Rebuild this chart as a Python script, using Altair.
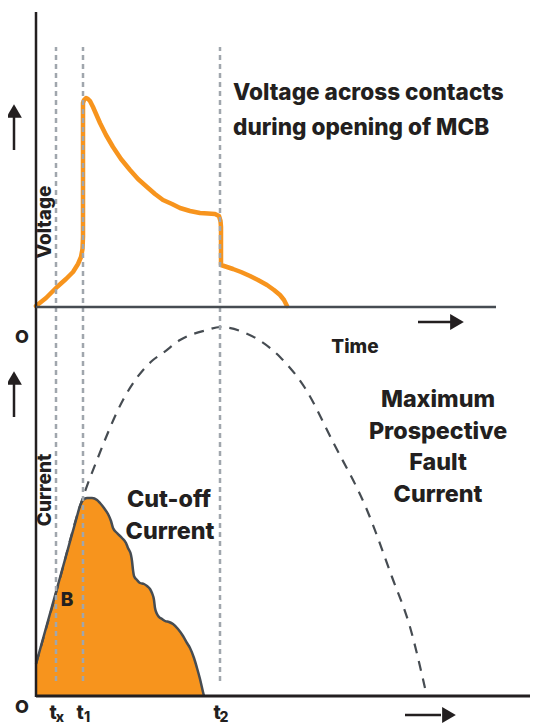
import altair as alt
import pandas as pd

# ---------------- data ----------------
# Voltage across contacts: time (px from origin) / voltage above its own baseline
volt_t = [0, 10, 21, 30, 37, 42, 45, 46.5, 47, 47, 48, 50, 52, 54, 57, 64, 70, 77, 85, 94,
          102, 111, 119, 127, 136, 144, 154, 164, 172, 179, 183, 184.5, 185, 185, 191, 197,
          205, 214, 222, 231, 238, 244, 248, 251]
volt_v = [1, 9, 20, 28, 35, 43, 50, 58, 70, 204, 207, 209, 208, 206, 200, 184, 172, 160, 148, 137,
          128, 120, 113, 107, 103, 99, 96, 94, 93.5, 93, 91, 86, 80, 42, 40, 38,
          35, 31, 27, 22, 17, 12, 7, 1]

# Cut-off current (filled)
cur_t = [0, 10, 20, 30, 40, 44, 47, 51, 56, 61, 64, 68, 72, 75, 77, 81, 86, 90, 92, 95, 96, 97,
         98, 101, 104, 108, 111, 114, 116, 118, 119, 121, 123, 126, 129, 133, 137, 142, 147,
         151, 154, 158, 161, 164, 167, 168]
cur_i = [32, 68, 104, 140, 176, 190, 196, 198, 198, 196, 193, 188, 182, 175, 168, 163, 158, 153,
         148, 141, 135, 126, 120, 116, 113, 112, 110, 107, 103, 96, 88, 82, 79, 77, 75, 74, 72,
         67, 60, 53, 48, 38, 28, 17, 4, 0]

# Maximum prospective fault current (dashed)
pros_t = [0, 19, 44, 61, 87, 117, 127, 144, 171, 184, 207, 244, 269, 297, 331, 356, 374, 389]
pros_i = [32, 99, 190, 236, 296, 336, 343, 356, 366, 369, 364, 339, 308, 254, 186, 119, 69, 8]

# Time markers
mark_t = [20, 47, 184]
mark_main = ["t", "t", "t"]
mark_sub = ["x", "1", "2"]

# ---------------- layout constants ----------------
VOLT_BASE = 389          # level of the voltage panel's baseline
X_DOM = [-28, 494]
Y_DOM = [-28, 688]
ORANGE = "#F7941D"
DARK = "#231f20"
EDGE = "#464c52"
GRAY = "#a0a6ad"
FONT = "Inter"
WEIGHT = 800

xs = alt.Scale(domain=X_DOM, nice=False, zero=False)
ys = alt.Scale(domain=Y_DOM, nice=False, zero=False)
X = lambda f: alt.X(f, scale=xs, axis=None)
Y = lambda f: alt.Y(f, scale=ys, axis=None)

volt_df = pd.DataFrame({"t": volt_t, "v": volt_v, "i": range(len(volt_t))})
cur_df = pd.DataFrame({"t": cur_t, "c": cur_i})
pros_df = pd.DataFrame({"t": pros_t, "c": pros_i})
mark_df = pd.DataFrame({"t": mark_t, "main": mark_main, "sub": mark_sub})

area = alt.Chart(cur_df).transform_calculate(z="0").mark_area(
    color=ORANGE, interpolate="monotone").encode(x=X("t:Q"), y=Y("c:Q"), y2="z:Q")
edge = alt.Chart(cur_df).mark_line(color=EDGE, strokeWidth=2.5, interpolate="monotone").encode(
    x=X("t:Q"), y=Y("c:Q"))
pros = alt.Chart(pros_df).mark_line(color=EDGE, strokeWidth=2.2, strokeDash=[10, 8],
                                    interpolate="monotone").encode(x=X("t:Q"), y=Y("c:Q"))
volt = alt.Chart(volt_df).transform_calculate(lv=f"datum.v + {VOLT_BASE}").mark_line(
    color=ORANGE, strokeWidth=4.5, strokeJoin="round", strokeCap="round").encode(
    x=X("t:Q"), y=Y("lv:Q"), order="i:Q")
vrules = alt.Chart(mark_df).transform_calculate(ya="15", yb="649").mark_rule(
    color=GRAY, strokeWidth=2.5, strokeDash=[5, 4]).encode(
    x=X("t:Q"), y=Y("ya:Q"), y2="yb:Q")

# structural axes
lines_df = pd.DataFrame({
    "x1": [0, 0, 0], "x2": [0, 460, 494],
    "y1": [-1, VOLT_BASE, 0], "y2": [684, VOLT_BASE, 0],
    "c": [DARK, EDGE, DARK], "w": [2.5, 2.5, 3]})
axes = alt.Chart(lines_df).mark_rule().encode(
    x=X("x1:Q"), x2="x2:Q", y=Y("y1:Q"), y2="y2:Q",
    color=alt.Color("c:N", scale=None), strokeWidth=alt.StrokeWidth("w:Q", scale=None))

# arrows
arr_df = pd.DataFrame({
    "x1": [-22, -22, 382, 369], "x2": [-22, -22, 416, 405],
    "y1": [546, 279, 374, -19], "y2": [580, 313, 374, -19]})
shafts = alt.Chart(arr_df).mark_rule(color=DARK, strokeWidth=2.5).encode(
    x=X("x1:Q"), x2="x2:Q", y=Y("y1:Q"), y2="y2:Q")
head_df = pd.DataFrame({"x": [-22, -22, 421, 413], "y": [585, 318, 374, -19],
                        "s": ["triangle-up", "triangle-up", "triangle-right", "triangle-right"]})
heads = alt.Chart(head_df).mark_point(filled=True, color=DARK, opacity=1, size=250).encode(
    x=X("x:Q"), y=Y("y:Q"), shape=alt.Shape("s:N", scale=None))

# texts
def txt(rows, size, angle=0, align="center"):
    df = pd.DataFrame(rows, columns=["x", "y", "text"])
    return alt.Chart(df).mark_text(font=FONT, fontWeight=WEIGHT, fontSize=size, color=DARK,
                                   align=align, baseline="middle", angle=angle).encode(
        x=X("x:Q"), y=Y("y:Q"), text="text:N")

title_txt = txt([(197, 603, "Voltage across contacts"), (197, 568, "during opening of MCB")],
                22.6, align="left")
big_txt = txt([(133, 196, "Cut-off"), (134, 164, "Current"),
               (402, 296, "Maximum"), (402, 264, "Prospective"),
               (402, 233, "Fault"), (402, 201, "Current")], 23.3)
small_txt = txt([(319, 349, "Time"), (31, 96, "B")], 19)
o_txt = txt([(-14, 358, "O"), (-14, -12, "O")], 18)
rot_txt = txt([(9, 474, "Voltage"), (9, 206, "Current")], 19, angle=270)

tmain = alt.Chart(mark_df).transform_calculate(xx="datum.t - 3", yy="-17").mark_text(
    font=FONT, fontWeight=WEIGHT, fontSize=19, color=DARK, baseline="middle").encode(
    x=X("xx:Q"), y=Y("yy:Q"), text="main:N")
tsub = alt.Chart(mark_df).transform_calculate(xx="datum.t + 4", yy="-22").mark_text(
    font=FONT, fontWeight=WEIGHT, fontSize=14, color=DARK, baseline="middle").encode(
    x=X("xx:Q"), y=Y("yy:Q"), text="sub:N")

chart = alt.layer(area, volt, edge, pros, vrules, axes, shafts, heads,
                  title_txt, big_txt, small_txt, o_txt, rot_txt, tmain, tsub).properties(
    width=522, height=716, padding=0, autosize=alt.AutoSizeParams(type="none")
).configure_view(stroke=None)

chart.save("out.html", embed_options={"renderer": "svg", "actions": False})
